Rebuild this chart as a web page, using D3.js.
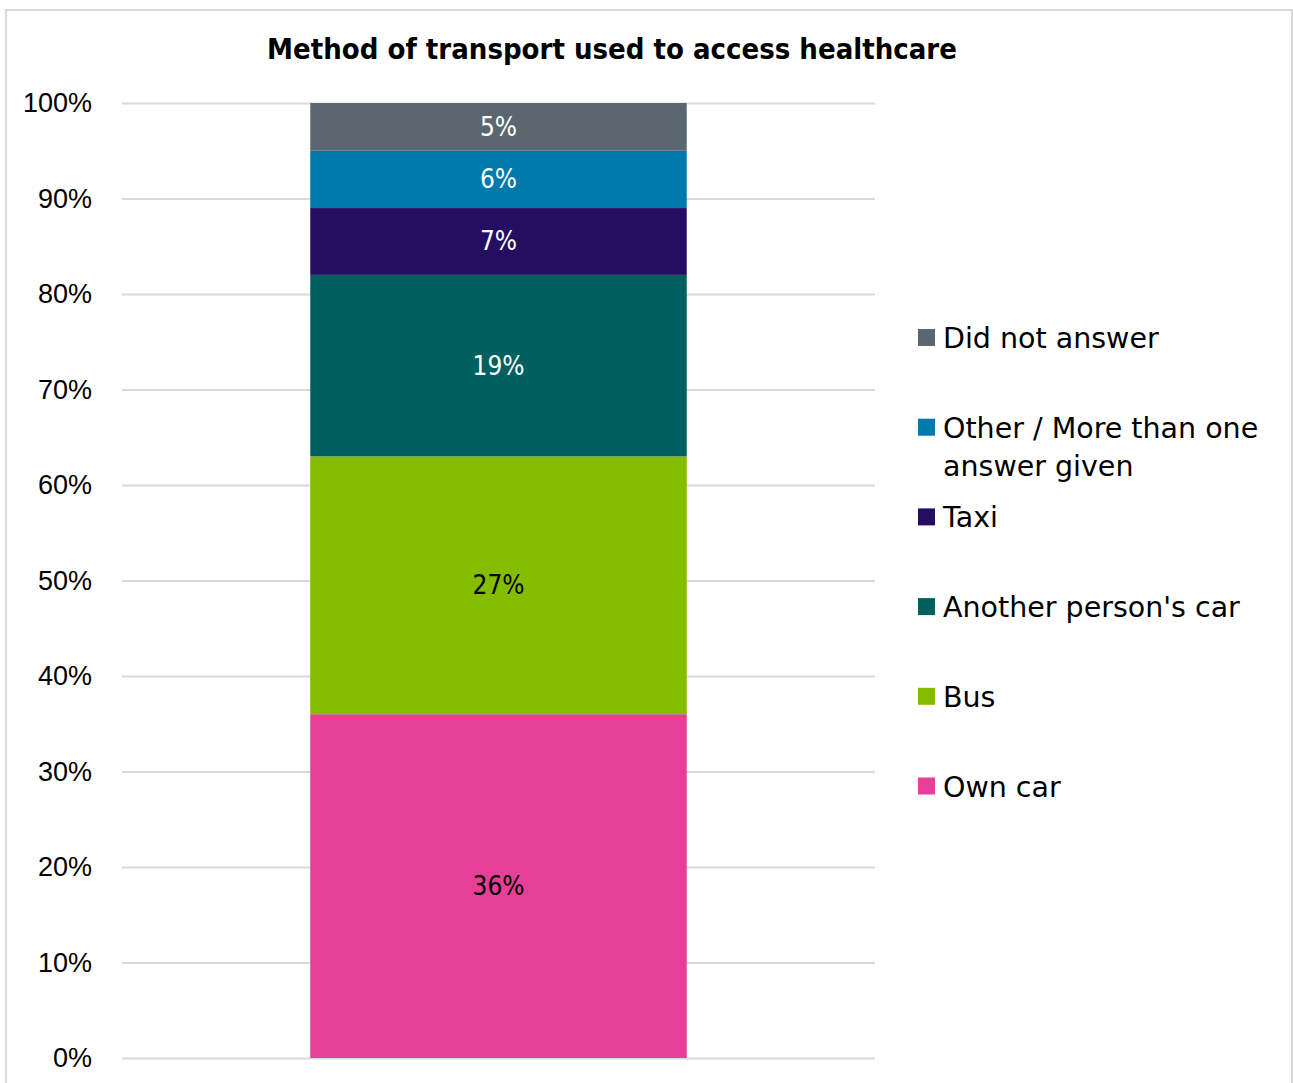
<!DOCTYPE html>
<html>
<head>
<meta charset="utf-8">
<script src="https://cdn.jsdelivr.net/npm/d3@7"></script>
<style>
  html, body { margin: 0; padding: 0; background: #fff; }
  svg { display: block; }
</style>
</head>
<body>
<svg id="chart" width="1293" height="1083"></svg>
<script>
// Stack segments, bottom to top
const categories = ["Own car", "Bus", "Another person's car", "Taxi", "Other / More than one answer given", "Did not answer"];
const shares = [36, 27, 19, 7, 6, 5];
const colors = ["#E73F97", "#84BD00", "#00605F", "#250E62", "#007AAD", "#5B6770"];
const labelColors = ["#000000", "#000000", "#ffffff", "#ffffff", "#ffffff", "#ffffff"];
const tickValues = [0, 10, 20, 30, 40, 50, 60, 70, 80, 90, 100];
const titleText = "Method of transport used to access healthcare";

const svg = d3.select("#chart");
const margin = { left: 122, right: 418, top: 103, bottom: 25 };
const W = 1293, H = 1083;
const plotW = W - margin.left - margin.right;
const plotH = H - margin.top - margin.bottom;

// Outer chart frame
svg.append("rect")
  .attr("x", 6).attr("y", 10)
  .attr("width", 1286).attr("height", 1090)
  .attr("fill", "#fff")
  .attr("stroke", "#d9d9d9").attr("stroke-width", 2);

// Title
svg.append("text")
  .attr("x", 612).attr("y", 49)
  .attr("text-anchor", "middle")
  .attr("dominant-baseline", "central")
  .style("font-family", "'DejaVu Sans', sans-serif")
  .style("font-weight", "bold")
  .style("font-stretch", "condensed")
  .style("font-size", "29px")
  .attr("fill", "#000")
  .text(titleText);

const g = svg.append("g").attr("transform", `translate(${margin.left},${margin.top})`);

const y = d3.scaleLinear().domain([0, 100]).range([plotH, 0]);
const x = d3.scaleBand().domain(["all"]).range([0, plotW]).paddingInner(0.5).paddingOuter(0.25);

// Y axis with gridlines
const yAxis = d3.axisLeft(y)
  .tickValues(tickValues)
  .tickFormat(d => d + "%")
  .tickSizeInner(-plotW)
  .tickSizeOuter(0)
  .tickPadding(30);

const ax = g.append("g").call(yAxis);
ax.select(".domain").remove();
ax.selectAll(".tick line").attr("stroke", "#d9d9d9").attr("stroke-width", 2);
ax.selectAll(".tick text")
  .style("font-family", "'Liberation Sans', Arial, sans-serif")
  .style("font-size", "27px")
  .attr("fill", "#000");

// Stacked segments
const stackData = [Object.fromEntries(categories.map((c, i) => [c, shares[i]]))];
const series = d3.stack().keys(categories)(stackData);

const seg = g.append("g").selectAll("g.seg")
  .data(series)
  .join("g").attr("class", "seg");

seg.append("rect")
  .attr("x", x("all"))
  .attr("width", x.bandwidth())
  .attr("y", d => y(d[0][1]))
  .attr("height", d => y(d[0][0]) - y(d[0][1]))
  .attr("fill", (d, i) => colors[i]);

seg.append("text")
  .attr("x", x("all") + x.bandwidth() / 2)
  .attr("y", d => (y(d[0][0]) + y(d[0][1])) / 2)
  .attr("text-anchor", "middle")
  .attr("dominant-baseline", "central")
  .style("font-family", "'DejaVu Sans', sans-serif")
  .style("font-stretch", "condensed")
  .style("font-size", "26px")
  .attr("fill", (d, i) => labelColors[i])
  .text((d, i) => shares[i] + "%");

// Legend, top to bottom in reverse stack order
const legendX = 918, legendTop = 338, legendStep = 89.7, lineH = 38, wrapW = 340;
const legendItems = categories.map((c, i) => ({ name: c, color: colors[i] })).reverse();

const lg = svg.append("g").selectAll("g.item")
  .data(legendItems)
  .join("g").attr("class", "item")
  .attr("transform", (d, i) => `translate(${legendX},${legendTop + i * legendStep})`);

lg.append("rect")
  .attr("x", 0).attr("y", -9)
  .attr("width", 17).attr("height", 17)
  .attr("fill", d => d.color);

lg.each(function(d) {
  const t = d3.select(this).append("text")
    .attr("x", 25)
    .attr("dominant-baseline", "central")
    .style("font-family", "'DejaVu Sans', sans-serif")
    .style("font-size", "28.5px")
    .attr("fill", "#000");
  // simple word wrap
  const words = d.name.split(" ");
  let line = [];
  let lineNo = 0;
  let ts = t.append("tspan").attr("x", 25).attr("y", 0);
  words.forEach(w => {
    line.push(w);
    ts.text(line.join(" "));
    if (ts.node().getComputedTextLength() > wrapW && line.length > 1) {
      line.pop();
      ts.text(line.join(" "));
      line = [w];
      lineNo++;
      ts = t.append("tspan").attr("x", 25).attr("y", lineNo * lineH).text(w);
    }
  });
});
</script>
</body>
</html>
